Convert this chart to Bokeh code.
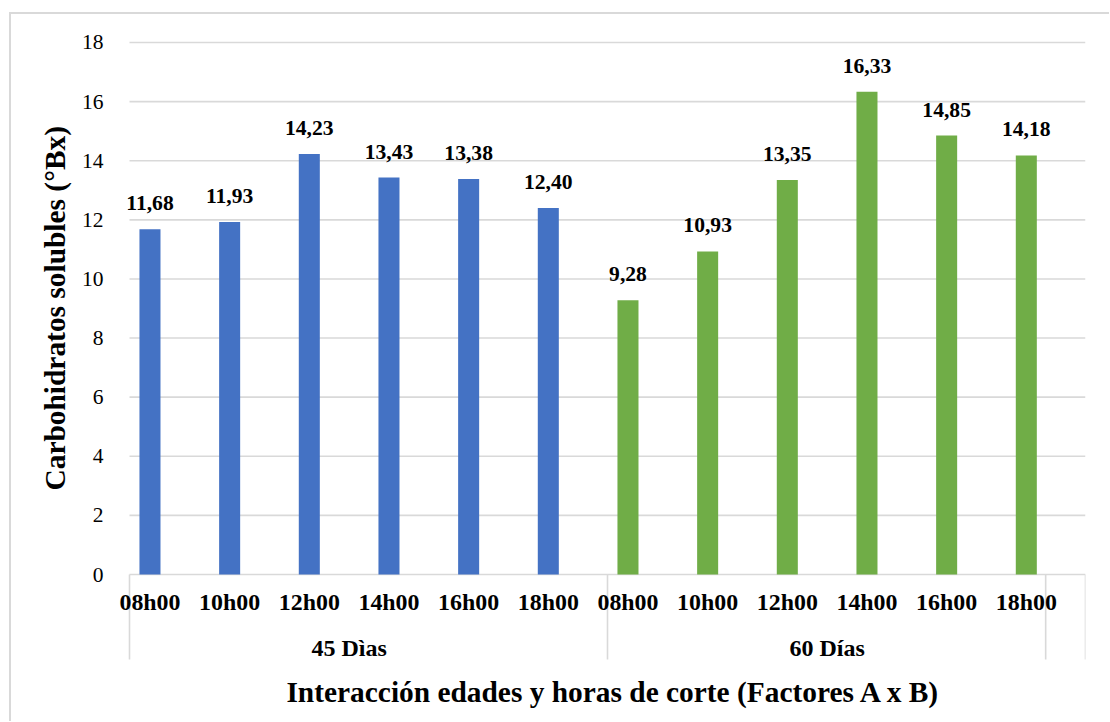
import numpy as np
from bokeh.plotting import figure
from bokeh.models import Range1d, FixedTicker, Title
from bokeh.core.properties import value
from bokeh.embed import file_html
from bokeh.resources import INLINE

# ---- data ----
hours = ["08h00", "10h00", "12h00", "14h00", "16h00", "18h00"]
groups = ["45 Dìas", "60 Días"]
vals_45 = [11.68, 11.93, 14.23, 13.43, 13.38, 12.40]
vals_60 = [9.28, 10.93, 13.35, 16.33, 14.85, 14.18]
y_ticks = [0, 2, 4, 6, 8, 10, 12, 14, 16, 18]
x_title = "Interacción edades y horas de corte (Factores A x B)"
y_title = "Carbohidratos solubles (°Bx)"

# ---- style ----
FONT = "Liberation Serif"
COL45 = "#4472c4"
COL60 = "#70ad47"
GRID = "#d9d9d9"
OFF = 0.257   # bar centre inside its category slot
BW = 0.264    # bar width (category units)

n = len(hours)
vals = vals_45 + vals_60
xs = list(np.arange(2 * n) + OFF)
cols = [COL45] * n + [COL60] * n
lbls = [f"{v:.2f}".replace(".", ",") for v in vals]

p = figure(width=1100, height=709,
           x_range=Range1d(-0.2385, 2 * n), y_range=Range1d(-4.669, 18.744),
           output_backend="svg", toolbar_location=None,
           x_axis_location=None,
           min_border_left=99, min_border_right=26,
           min_border_top=6, min_border_bottom=11)
p.margin = (12, 0, 0, 9)
p.styles = {"border-left": "2px solid #d9d9d9", "border-top": "2px solid #d9d9d9"}
p.outline_line_color = None
p.background_fill_color = "white"
p.border_fill_color = "white"

# y axis
p.yaxis.ticker = FixedTicker(ticks=y_ticks)
p.yaxis.axis_line_color = None
p.yaxis.major_tick_line_color = None
p.yaxis.minor_tick_line_color = None
p.yaxis.major_label_text_font = FONT
p.yaxis.major_label_text_font_size = "21.5px"
p.yaxis.major_label_text_color = "#000000"
p.yaxis.major_label_standoff = 1
p.ygrid.visible = False
p.xgrid.visible = False

# horizontal gridlines across the plot area
p.segment(x0=[0] * len(y_ticks), x1=[2 * n] * len(y_ticks), y0=y_ticks, y1=y_ticks,
          line_color=GRID, line_width=1.6)

# group separators below the axis
sep_x = [0, n, 2 * n - 0.5, 2 * n]
p.segment(x0=sep_x, y0=[0] * 4, x1=sep_x, y1=[-2.876] * 4,
          line_color=GRID, line_width=1.6)

# bars
p.vbar(x=xs, top=vals, bottom=0, width=BW, fill_color=cols, line_color=None)

# value labels
p.text(x=xs, y=vals, text=lbls, text_font=value(FONT), text_font_size="21.6px",
       text_font_style="bold", text_align="center", text_baseline="alphabetic",
       y_offset=-26, text_color="#000000")

# category tick labels
p.text(x=xs, y=[-0.93] * (2 * n), text=hours * 2, text_font=value(FONT),
       text_font_size="23.9px", text_font_style="bold", text_align="center",
       text_baseline="middle", text_color="#000000")

# group labels
gx = [float(np.mean(xs[:n])), float(np.mean(xs[n:]))]
p.text(x=gx, y=[-2.47, -2.47], text=groups, text_font=value(FONT),
       text_font_size="24px", text_font_style="bold", text_align="center",
       text_baseline="middle", text_color="#000000")

# x axis title
p.text(x=[6.08], y=[-3.99], text=[x_title], text_font=value(FONT),
       text_font_size="29.4px", text_font_style="bold", text_align="center",
       text_baseline="middle", text_color="#000000")

# y axis title
p.add_layout(Title(text=y_title, align="left", offset=222, standoff=14,
                   vertical_align="middle",
                   text_font=FONT, text_font_size="29.4px", text_font_style="bold",
                   text_color="#000000"), "left")

open("out.html", "w").write(file_html(p, INLINE))
